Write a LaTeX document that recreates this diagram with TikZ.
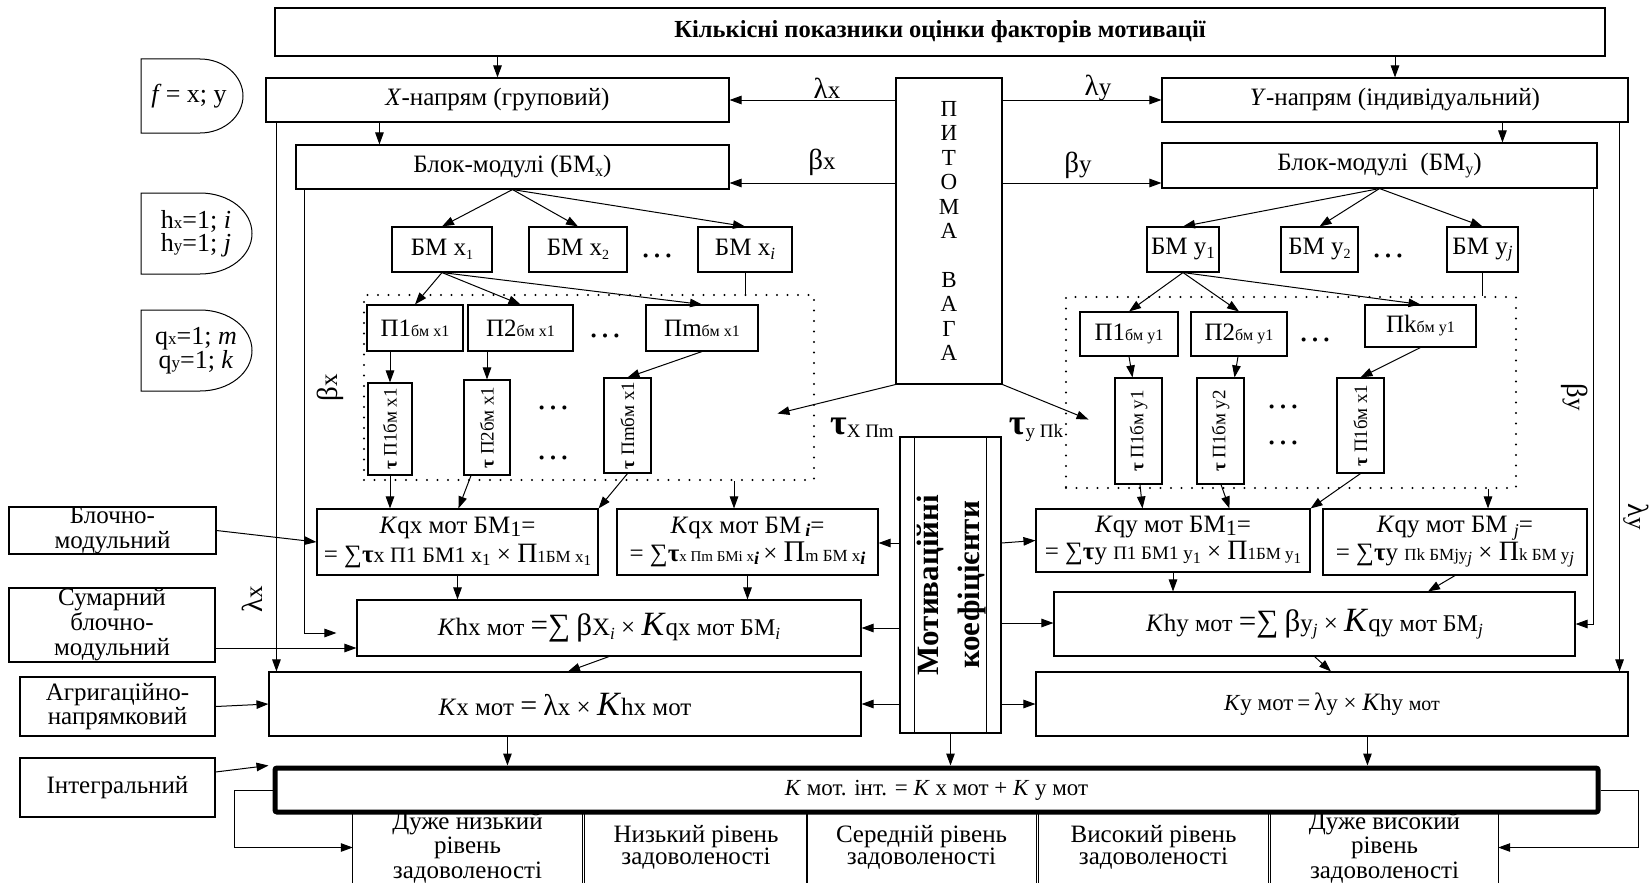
\documentclass[tikz,border=0pt]{standalone}
\usepackage{fontspec}
\setmainfont{Liberation Serif}
\usepackage{graphicx}
\usetikzlibrary{arrows.meta,calc}
\newcommand\fsz[2]{\fontsize{#1}{#2}\selectfont}
\newcommand\tsz[2]{{\fontsize{#1}{#1}\selectfont #2}}
\newcommand\lowsub[2]{\raisebox{-0.3ex}{\tsz{#1}{#2}}}
\begin{document}
\begin{tikzpicture}[x=1pt,y=-1pt,
 box/.style={draw, line width=1.1pt, inner sep=0pt, align=center, font=\fsz{25}{25}},
 arr/.style={line width=1pt, -{Triangle[length=12pt,width=8.5pt]}},
 ln/.style={line width=1pt},
 lbl/.style={inner sep=0pt, font=\fsz{25}{25}},
 dotbox/.style={draw, line width=2.4pt, line cap=round, dash pattern=on 0pt off 10.5pt, inner sep=0pt},
 dts/.style={inner sep=0pt, font=\fsz{34}{34}},
 botx/.style={minimum height=71, inner sep=0pt, align=center},
]
\fill[white] (0,0) rectangle (1651,883);
\useasboundingbox (0,0) rectangle (1651,883);

% ---------- top and direction boxes
\node[box, minimum width=1330, minimum height=48, font=\bfseries\fsz{24.5}{26}] (top) at (940,32) {Кількісні показники оцінки факторів мотивації};
\node[box, minimum width=463, minimum height=44] (xdir) at (497.5,100) {\textit{X}-напрям (груповий)};
\node[box, minimum width=466, minimum height=44] (ydir) at (1395,100) {\textit{Y}-напрям (індивідуальний)};
\node[box, minimum width=433, minimum height=44] (bmx) at (512.5,167) {Блок-модулі (БМ\lowsub{16}{x})};
\node[box, minimum width=435, minimum height=45] (bmy) at (1379.5,165.5) {Блок-модулі~ (БМ\lowsub{16}{y})};
\node[box, minimum width=106, minimum height=306, font=\fsz{23}{24.4}] (pv) at (949,231) {П\\И\\Т\\О\\М\\А\\[24.4pt]В\\А\\Г\\А};

% ---------- block modules
\node[box, minimum width=100, minimum height=45] (bmx1) at (442,249.5) {БМ x\lowsub{14}{1}};
\node[box, minimum width=98, minimum height=45] (bmx2) at (578,249.5) {БМ x\lowsub{14}{2}};
\node[box, minimum width=94, minimum height=45] (bmxi) at (745,249.5) {БМ x\lowsub{17}{\textit{i}}};
\node[box, minimum width=72, minimum height=45] (bmy1) at (1183,249.5) {БМ y\lowsub{17}{1}};
\node[box, minimum width=77, minimum height=45] (bmy2) at (1319.5,249.5) {БМ y\lowsub{14}{2}};
\node[box, minimum width=71, minimum height=45] (bmyj) at (1482.5,249.5) {БМ y\lowsub{17}{\textit{j}}};
\node[dts] (dbx) at (657,256) {…};
\node[dts] (dby) at (1388,256) {…};

% ---------- dotted groups
\node[dotbox, minimum width=450, minimum height=185] (dx) at (589,387.5) {};
\node[dotbox, minimum width=450, minimum height=191] (dy) at (1291,392.5) {};

% ---------- indicators
\node[box, minimum width=96, minimum height=46] (px1) at (415,328) {П1\tsz{16}{бм x1}};
\node[box, minimum width=105, minimum height=46] (px2) at (520.5,328) {П2\tsz{16}{бм x1}};
\node[box, minimum width=112, minimum height=46] (pxm) at (702,328) {Пm\tsz{16}{бм x1}};
\node[box, minimum width=98, minimum height=44] (py1) at (1129,334) {П1\tsz{16}{бм y1}};
\node[box, minimum width=96, minimum height=44] (py2) at (1239,334) {П2\tsz{16}{бм y1}};
\node[box, minimum width=111, minimum height=42] (pyk) at (1420.5,326) {Пk\tsz{16}{бм y1}};
\node[dts] (dpx) at (605,336) {…};
\node[dts] (dpy) at (1315,340) {…};

\node[box, minimum width=44, minimum height=92, font=\fsz{19}{19}] (tx1) at (390,429) {\rotatebox{90}{\textbf{τ} П1бм x1}};
\node[box, minimum width=46, minimum height=95, font=\fsz{19}{19}] (tx2) at (487,427.5) {\rotatebox{90}{\textbf{τ} П2бм x1}};
\node[box, minimum width=47, minimum height=95, font=\fsz{19}{19}] (txm) at (627.5,425.5) {\rotatebox{90}{\textbf{τ} Пmбм x1}};
\node[box, minimum width=47, minimum height=106, font=\fsz{19}{19}] (ty1) at (1138.5,431) {\rotatebox{90}{\textbf{τ} П1бм y1}};
\node[box, minimum width=47, minimum height=106, font=\fsz{19}{19}] (ty2) at (1220.5,431) {\rotatebox{90}{\textbf{τ} П1бм y2}};
\node[box, minimum width=47, minimum height=95, font=\fsz{19}{19}] (tyk) at (1360.5,425.5) {\rotatebox{90}{\textbf{τ} П1бм x1}};
\node[dts] (dtx1) at (553,408) {…};
\node[dts] (dtx2) at (553,458) {…};
\node[dts] (dty1) at (1283,407) {…};
\node[dts] (dty2) at (1283,443) {…};

% ---------- coefficient formulas
\node[box, minimum width=281, minimum height=66, font=\fsz{25}{29}] (kqx1) at (457.5,542) {\textit{K}qx мот БМ\lowsub{22}{1}=\\= ∑\textbf{τ}\tsz{22}{x П1 БМ1 x}\lowsub{17}{1} × \tsz{28}{П}\tsz{17}{1БМ x}\lowsub{15}{1}};
\node[box, minimum width=261, minimum height=66, font=\fsz{25}{28}] (kqxi) at (747.5,542) {\textit{K}qx мот БМ\,\lowsub{18}{\textbf{\textit{i}}}=\\= ∑\textbf{τ}\tsz{15}{x Пm БМi x}\lowsub{18}{\textbf{\textit{i}}}\,× \tsz{30}{П}\tsz{17}{m БМ x}\lowsub{18}{\textbf{\textit{i}}}};
\node[box, minimum width=274, minimum height=63, font=\fsz{25}{27.5}] (kqy1) at (1173,540.5) {\textit{K}qy мот БМ\lowsub{22}{1}=\\= ∑\textbf{τ}y \tsz{19}{П1 БМ1 y}\lowsub{16}{1} × \tsz{28}{П}\tsz{17}{1БМ y}\lowsub{15}{1}};
\node[box, minimum width=264, minimum height=66, font=\fsz{25}{27.5}] (kqyj) at (1455,542) {\textit{K}qy мот БМ \lowsub{18}{\textit{j}}=\\= ∑\textbf{τ}y \tsz{17}{Пk БМjy}\lowsub{17}{\textit{j}} × \tsz{28}{П}\tsz{17}{k БМ y}\lowsub{17}{\textit{j}}};

\node[box, minimum width=504, minimum height=56] (khx) at (609,628) {\textit{K}hx \tsz{24}{мот} \tsz{31}{=∑} \tsz{31}{β}X\lowsub{17}{\textit{i}} × \tsz{34}{\textit{K}}qx \tsz{24}{мот БМ}\lowsub{17}{\textit{i}}};
\node[box, minimum width=521, minimum height=64] (khy) at (1314.5,624) {\textit{K}hy \tsz{24}{мот} \tsz{31}{=∑} \tsz{31}{β}y\lowsub{17}{\textit{j}} × \tsz{34}{\textit{K}}qy \tsz{24}{мот БМ}\lowsub{17}{\textit{j}}};
\node[box, minimum width=592, minimum height=64] (kx) at (565,704) {\textit{K}x мот \tsz{30}{=} \tsz{30}{λ}x × \tsz{34}{\textit{K}}hx мот};
\node[box, minimum width=592, minimum height=64, font=\fsz{23}{23}] (ky) at (1332,704) {\textit{K}y мот\,=\,\tsz{25}{λ}y × \tsz{25}{\textit{K}}hy \tsz{20}{мот}};

\node[box, minimum width=101, minimum height=296] (mot) at (950.5,585) {\rotatebox{90}{\bfseries\fsz{31}{41}\begin{tabular}{@{}c@{}}Мотиваційні\\коефіцієнти\end{tabular}}};
\draw[ln] ($(mot.north west)+(15,0)$) -- ($(mot.south west)+(15,0)$);
\draw[ln] ($(mot.north east)+(-15,0)$) -- ($(mot.south east)+(-15,0)$);

% ---------- left side legend shapes
\draw[ln] (141,59) -- (200,59) .. controls (224,59) and (243,76) .. (243,96) .. controls (243,116) and (224,133) .. (200,133) -- (141,133) -- cycle;
\node[lbl, font=\fsz{26}{26}] (fsh) at (189,96) {\textit{f}\,= x; y};
\draw[ln] (141,193) -- (200,193) .. controls (229,193) and (252,211) .. (252,233.5) .. controls (252,256) and (229,274) .. (200,274) -- (141,274) -- cycle;
\node[lbl, align=center, font=\fsz{26}{23}] (hsh) at (196,233.5) {h\tsz{17}{x}=1; \textit{i}\\h\tsz{17}{y}=1; \textit{j}};
\draw[ln] (141,310) -- (200,310) .. controls (229,310) and (252,328) .. (252,350.5) .. controls (252,373) and (229,391) .. (200,391) -- (141,391) -- cycle;
\node[lbl, align=center, font=\fsz{26}{23}] (qsh) at (196,350.5) {q\tsz{17}{x}=1; \textit{m}\\q\tsz{17}{y}=1; \textit{k}};

\node[box, minimum width=207, minimum height=47] (blochno) at (112.5,530.5) {Блочно-\\модульний};
\node[box, minimum width=206, minimum height=74] (sumar) at (112,625) {Сумарний\\блочно-\\модульний};
\node[box, line width=2pt, minimum width=195, minimum height=59, font=\fsz{25}{22}] (agreg) at (117.5,706.5) {Агригаційно-\\напрямковий};
\node[box, minimum width=195, minimum height=59] (integral) at (117.5,787.5) {Інтегральний};

% ---------- bottom levels
\node[botx, minimum width=229, font=\fsz{25}{24.5}] (bot1) at (467.5,847.5) {Дуже низький\\рівень\\задоволеності};
\node[botx, minimum width=222, font=\fsz{25}{22}] (bot2) at (696,847.5) {Низький рівень\\задоволеності};
\node[botx, minimum width=229, font=\fsz{25}{22}] (bot3) at (921.5,847.5) {Середній рівень\\задоволеності};
\node[botx, minimum width=229, font=\fsz{25}{22}] (bot4) at (1153.5,847.5) {Високий рівень\\задоволеності};
\node[botx, minimum width=227, font=\fsz{25}{24.5}] (bot5) at (1384.5,847.5) {Дуже високий\\рівень\\задоволеності};
\foreach \b in {bot1,bot2,bot3,bot4,bot5}{
  \draw[ln] (\b.north west) -- (\b.south west);
  \draw[ln] (\b.north east) -- (\b.south east);
}

\node[draw, line width=5pt, rounded corners=2pt, minimum width=1323, minimum height=44, inner sep=0pt, font=\fsz{23}{24}] (integ) at (936.5,790) {\textit{K} мот. інт. = \textit{K} x мот + \textit{K} y мот};

% ---------- labels
\node[lbl] (lxl) at (827,88) {\tsz{29}{λ}x};
\node[lbl] (lyl) at (1098,88) {\tsz{29}{λ}y};
\node[lbl] (bxl) at (822,162) {\tsz{29}{β}x};
\node[lbl] (byl) at (1078,165) {\tsz{29}{β}y};
\node[lbl, rotate=90] (bxr) at (330,388) {\tsz{29}{β}x};
\node[lbl, rotate=90] (lxr) at (252,599) {\tsz{29}{λ}x};
\node[lbl, rotate=-90] (byr) at (1575,397) {\tsz{29}{β}y};
\node[lbl, rotate=-90] (lyr) at (1636,517) {\tsz{29}{λ}y};
\node[lbl] (tauxl) at (862,428) {\tsz{36}{\textbf{τ}}\lowsub{19}{X Пm}};
\node[lbl] (tauyl) at (1036,430) {\tsz{36}{\textbf{τ}}\lowsub{19}{y Пk}};

% ---------- connectors: top part
\draw[arr] (top.south -| xdir.north) -- (xdir.north);
\draw[arr] (top.south -| ydir.north) -- (ydir.north);
\coordinate (xb) at ($(bmx.north west)+(84,0)$);
\draw[arr] (xb |- xdir.south) -- (xb);
\coordinate (yb) at ($(bmy.north west)+(341,0)$);
\draw[arr] (yb |- ydir.south) -- (yb);
\coordinate (xl) at ($(xdir.south west)+(11,0)$);
\draw[arr] (xl) -- (xl |- kx.north);
\coordinate (yl) at ($(ydir.south east)+(-9,0)$);
\draw[arr] (yl) -- (yl |- ky.north);
\coordinate (bxl0) at ($(bmx.south west)+(9,0)$);
\coordinate (bxend) at ($(khx.west)+(-20,5)$);
\draw[arr] (bxl0) |- (bxend);
\coordinate (byl0) at ($(bmy.south east)+(-4,0)$);
\draw[arr] (byl0) |- (khy.east);

\draw[arr] (pv.west |- xdir.east) -- (xdir.east);
\draw[arr] (pv.east |- ydir.west) -- (ydir.west);
\coordinate (bxe) at ($(bmx.east)+(0,16)$);
\draw[arr] (pv.west |- bxe) -- (bxe);
\coordinate (bye) at ($(bmy.west)+(0,17.5)$);
\draw[arr] (pv.east |- bye) -- (bye);
\coordinate (txe) at ($(pv.south west)+(-118,29)$);
\draw[arr] (pv.south west) -- (txe);
\coordinate (tye) at ($(pv.south east)+(86,35)$);
\draw[arr] (pv.south east) -- (tye);

% X branch
\draw[arr] (bmx.south) -- (bmx1.north);
\draw[arr] (bmx.south) -- (bmx2.north);
\draw[arr] (bmx.south) -- (bmxi.north);
\draw[ln] (bmxi.south) -- (bmxi.south |- dx.north);
\draw[arr] (bmx1.south) -- (px1.north);
\draw[arr] (bmx1.south) -- (px2.north);
\draw[arr] (bmx1.south) -- (pxm.north);
\draw[arr] (tx1.north |- px1.south) -- (tx1.north);
\draw[arr] (tx2.north |- px2.south) -- (tx2.north);
\draw[arr] (pxm.south) -- (txm.north);
\draw[arr] (tx1.south) -- (tx1.south |- kqx1.north);
\draw[arr] ($(tx2.south)+(-16,0)$) -- ($(kqx1.north west)+(142,0)$);
\draw[arr] (txm.south) -- (kqx1.north east);
\coordinate (dxo) at ($(dx.south)+(145,0)$);
\draw[arr] (dxo) -- (dxo |- kqxi.north);
\draw[arr] (kqx1.south) -- (kqx1.south |- khx.north);
\draw[arr] (kqxi.south) -- (kqxi.south |- khx.north);
\draw[arr] (khx.south) -- ($(kx.north)+(3,0)$);
\coordinate (kxo) at ($(kx.south west)+(239,0)$);
\draw[arr] (kxo) -- (kxo |- integ.north);
\draw[arr] (mot.south) -- (mot.south |- integ.north);
\coordinate (kyo) at ($(ky.south west)+(332,0)$);
\draw[arr] (kyo) -- (kyo |- integ.north);

% Y branch
\draw[arr] (bmy.south) -- (bmy1.north);
\draw[arr] (bmy.south) -- (bmy2.north);
\draw[arr] (bmy.south) -- (bmyj.north);
\draw[ln] (bmyj.south) -- (bmyj.south |- dy.north);
\draw[arr] (bmy1.south) -- (py1.north);
\draw[arr] (bmy1.south) -- (py2.north);
\draw[arr] (bmy1.south) -- (pyk.north);
\draw[arr] (py1.south) -- ($(ty1.north)+(-6,0)$);
\draw[arr] ($(py2.south)+(-1,0)$) -- ($(ty2.north)+(14,0)$);
\draw[arr] (pyk.south) -- (tyk.north);
\draw[arr] ($(ty1.south)+(1.5,0)$) -- ($(kqy1.north west)+(107,0)$);
\draw[arr] ($(ty2.south)+(0.5,0)$) -- ($(kqy1.north west)+(194,0)$);
\draw[arr] (tyk.south) -- (kqy1.north east);
\coordinate (dyo) at ($(dy.south)+(197,0)$);
\draw[arr] (dyo) -- (dyo |- kqyj.north);
\draw[arr] (kqy1.south) -- (kqy1.south |- khy.north);
\draw[arr] (kqyj.south) -- ($(khy.north)+(113.5,0)$);
\draw[arr] (khy.south) -- ($(ky.north)+(-1,0)$);

% motivation coefficients
\coordinate (m1) at ($(mot.west)+(0,-42)$);
\draw[arr] (m1) -- (m1 -| kqxi.east);
\draw[arr] (mot.west |- khx.east) -- (khx.east);
\draw[arr] (mot.west |- kx.east) -- (kx.east);
\draw[arr] (mot.east |- m1) -- (kqy1.west);
\coordinate (m2) at ($(mot.east)+(0,38)$);
\draw[arr] (m2) -- (m2 -| khy.west);
\draw[arr] (mot.east |- ky.west) -- (ky.west);

% left legend boxes
\draw[arr] (blochno.east) -- (kqx1.west);
\coordinate (sumo) at ($(sumar.east)+(0,23)$);
\draw[arr] (sumo) -- (sumo -| khx.west);
\draw[arr] (agreg.east) -- (kx.west);
\coordinate (into) at ($(integral.east)+(0,-15.5)$);
\draw[arr] (into) -- ($(integ.north west)+(-4,0)$);

% feedback to levels
\draw[arr] (integ.west) -- ++(-38,0) |- (bot1.west);
\draw[arr] (integ.east) -- ++(38,0) |- (bot5.east);
\end{tikzpicture}
\end{document}
